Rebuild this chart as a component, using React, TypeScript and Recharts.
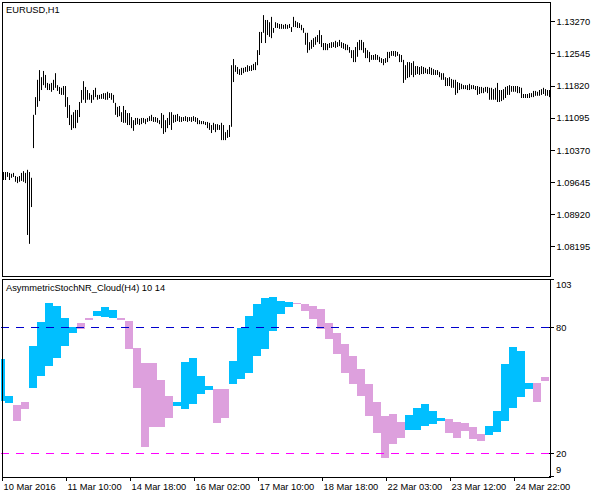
import React from 'react';
import { BarChart, Bar, Cell, XAxis, YAxis, ReferenceLine } from 'recharts';

const FONT = '"Liberation Sans", Arial, sans-serif';

// EURUSD H1 bars, one per hour starting 10 Mar 2016 02:00
const HIGH = [
  1.0988, 1.0988, 1.0988, 1.0986, 1.0984, 1.0986, 1.0979, 1.0977, 1.0979, 1.0986, 1.0990, 1.0986,
  1.0993, 1.0988, 1.0975,
  1.1117, 1.1157, 1.1196, 1.1218, 1.1202, 1.1216, 1.1207, 1.1189, 1.1187, 1.1189, 1.1196, 1.1211, 1.1184, 1.1180, 1.1178, 1.1182,
  1.1182, 1.1157, 1.1139, 1.1117, 1.1123, 1.1128, 1.1128, 1.1146, 1.1173, 1.1193, 1.1180, 1.1173, 1.1166, 1.1162, 1.1173, 1.1178, 1.1162, 1.1162, 1.1164, 1.1166, 1.1166, 1.1169, 1.1166, 1.1166, 1.1162,
  1.1144, 1.1135, 1.1137, 1.1123, 1.1137, 1.1128, 1.1121, 1.1121, 1.1112, 1.1105, 1.1110, 1.1110, 1.1108, 1.1110, 1.1110, 1.1108, 1.1110, 1.1114, 1.1117, 1.1112, 1.1112, 1.1110, 1.1105,
  1.1121, 1.1117, 1.1105, 1.1110, 1.1123, 1.1123, 1.1117, 1.1117, 1.1119, 1.1114, 1.1112, 1.1112, 1.1114, 1.1112, 1.1112, 1.1112, 1.1114, 1.1112, 1.1110, 1.1105,
  1.1103, 1.1103, 1.1101, 1.1101, 1.1099, 1.1094, 1.1099, 1.1096, 1.1096, 1.1094, 1.1099, 1.1094, 1.1078, 1.1083, 1.1094,
  1.1229, 1.1243, 1.1229, 1.1225, 1.1220, 1.1223, 1.1223, 1.1225, 1.1229, 1.1227, 1.1229, 1.1232, 1.1236,
  1.1263, 1.1304, 1.1304, 1.1342, 1.1331, 1.1331, 1.1326, 1.1338, 1.1313, 1.1326, 1.1324, 1.1322, 1.1322, 1.1320, 1.1322, 1.1320, 1.1322, 1.1315, 1.1338, 1.1329, 1.1326, 1.1324, 1.1320, 1.1313,
  1.1302, 1.1302, 1.1281, 1.1286, 1.1290, 1.1293, 1.1297, 1.1308, 1.1297, 1.1279, 1.1279, 1.1277, 1.1279, 1.1281, 1.1281, 1.1284, 1.1281, 1.1286, 1.1281, 1.1279, 1.1277, 1.1275, 1.1270,
  1.1263, 1.1263, 1.1270, 1.1281, 1.1286, 1.1286, 1.1281, 1.1268, 1.1263, 1.1259, 1.1252, 1.1252, 1.1254, 1.1252, 1.1248, 1.1245, 1.1243, 1.1245, 1.1259, 1.1259, 1.1261, 1.1261, 1.1261, 1.1259, 1.1254, 1.1252,
  1.1241, 1.1229, 1.1236, 1.1236, 1.1234, 1.1238, 1.1227, 1.1227, 1.1225, 1.1227, 1.1225, 1.1223, 1.1220, 1.1225, 1.1223, 1.1220, 1.1218, 1.1218, 1.1214, 1.1211, 1.1211,
  1.1202, 1.1200, 1.1202, 1.1198, 1.1196, 1.1196, 1.1191, 1.1189, 1.1187, 1.1184, 1.1184, 1.1184, 1.1187, 1.1184, 1.1184, 1.1182, 1.1182, 1.1180, 1.1180, 1.1178, 1.1180, 1.1180,
  1.1178, 1.1178, 1.1175, 1.1178, 1.1189, 1.1173, 1.1173, 1.1175, 1.1180, 1.1182, 1.1184, 1.1182, 1.1182, 1.1182, 1.1182, 1.1180, 1.1178, 1.1164, 1.1164, 1.1164, 1.1166, 1.1166, 1.1171, 1.1171, 1.1169, 1.1173, 1.1175, 1.1178, 1.1175, 1.1173, 1.1173,
];

const LOW = [
  1.0970, 1.0970, 1.0977, 1.0970, 1.0975, 1.0977, 1.0966, 1.0963, 1.0966, 1.0968, 1.0966, 1.0963,
  1.0846, 1.0826, 1.0909,
  1.1042, 1.1117, 1.1135, 1.1148, 1.1173, 1.1184, 1.1178, 1.1173, 1.1173, 1.1169, 1.1173, 1.1178, 1.1171, 1.1164, 1.1162, 1.1162,
  1.1135, 1.1110, 1.1094, 1.1083, 1.1087, 1.1087, 1.1099, 1.1112, 1.1144, 1.1151, 1.1144, 1.1151, 1.1151, 1.1144, 1.1151, 1.1157, 1.1151, 1.1153, 1.1153, 1.1153, 1.1151, 1.1151, 1.1155, 1.1151, 1.1144,
  1.1117, 1.1112, 1.1114, 1.1101, 1.1099, 1.1099, 1.1094, 1.1094, 1.1087, 1.1081, 1.1094, 1.1096, 1.1094, 1.1096, 1.1099, 1.1096, 1.1101, 1.1103, 1.1103, 1.1101, 1.1101, 1.1099, 1.1096,
  1.1087, 1.1074, 1.1078, 1.1087, 1.1094, 1.1083, 1.1099, 1.1101, 1.1103, 1.1101, 1.1101, 1.1103, 1.1103, 1.1101, 1.1103, 1.1101, 1.1103, 1.1101, 1.1096, 1.1096,
  1.1096, 1.1096, 1.1094, 1.1087, 1.1083, 1.1076, 1.1083, 1.1078, 1.1083, 1.1083, 1.1060, 1.1060, 1.1060, 1.1065, 1.1067,
  1.1090, 1.1191, 1.1214, 1.1209, 1.1207, 1.1207, 1.1211, 1.1214, 1.1214, 1.1216, 1.1216, 1.1218, 1.1218,
  1.1229, 1.1252, 1.1279, 1.1302, 1.1279, 1.1297, 1.1293, 1.1290, 1.1302, 1.1313, 1.1313, 1.1311, 1.1311, 1.1311, 1.1311, 1.1311, 1.1313, 1.1304, 1.1315, 1.1315, 1.1313, 1.1313, 1.1308, 1.1302,
  1.1275, 1.1257, 1.1263, 1.1266, 1.1270, 1.1275, 1.1281, 1.1277, 1.1270, 1.1263, 1.1263, 1.1263, 1.1268, 1.1268, 1.1270, 1.1268, 1.1270, 1.1272, 1.1268, 1.1266, 1.1263, 1.1263, 1.1257,
  1.1245, 1.1236, 1.1236, 1.1248, 1.1263, 1.1263, 1.1257, 1.1245, 1.1245, 1.1236, 1.1241, 1.1241, 1.1241, 1.1241, 1.1236, 1.1234, 1.1229, 1.1234, 1.1236, 1.1245, 1.1250, 1.1250, 1.1248, 1.1250, 1.1236, 1.1236,
  1.1189, 1.1196, 1.1200, 1.1202, 1.1207, 1.1202, 1.1207, 1.1209, 1.1207, 1.1209, 1.1209, 1.1211, 1.1209, 1.1209, 1.1207, 1.1207, 1.1207, 1.1207, 1.1202, 1.1196, 1.1196,
  1.1182, 1.1182, 1.1182, 1.1178, 1.1178, 1.1162, 1.1166, 1.1173, 1.1175, 1.1175, 1.1175, 1.1173, 1.1173, 1.1175, 1.1175, 1.1173, 1.1162, 1.1164, 1.1166, 1.1166, 1.1169, 1.1166,
  1.1151, 1.1151, 1.1151, 1.1151, 1.1146, 1.1146, 1.1148, 1.1151, 1.1155, 1.1162, 1.1162, 1.1169, 1.1169, 1.1169, 1.1166, 1.1166, 1.1155, 1.1155, 1.1155, 1.1155, 1.1155, 1.1157, 1.1157, 1.1160, 1.1160, 1.1160, 1.1162, 1.1164, 1.1160, 1.1160, 1.1157,
];

const PRICE_TICKS = [1.08195, 1.0892, 1.09645, 1.1037, 1.11095, 1.1182, 1.12545, 1.1327];
const PRICE_DOMAIN = [1.07557, 1.13693];

// AsymmetricStochNR_Cloud(H4): main and signal line, one value per H4 bar
const STOCH_MAIN = [
  65, 47.5, 35.6, 41, 71, 82.6, 91.5, 90, 84.6, 80, 79.1, 83.5, 87.8, 89.7, 88.1, 83.5, 69.9, 51.4, 22.9, 32.4,
  32.4, 37.1, 44.6, 63.6, 65.6, 56.9, 52.2, 34.3, 37.1, 64.1, 79.9, 85.4, 91, 94.1, 94.6, 92.6, 92.1, 91, 87.8, 83.9,
  79.1, 74.4, 67.2, 58.5, 53, 47.4, 38, 30, 17.7, 24.5, 27.6, 38.3, 41.9, 43.8, 40.3, 37, 30, 27.6, 30.8, 26.9,
  26.1, 32.9, 40.3, 62.5, 70.9, 68.8, 53.8, 44.6, 54.6,
];
const STOCH_SIGNAL = [
  45, 44, 43, 44.3, 51.4, 57, 61.7, 65.6, 71.2, 77.5, 82.3, 84.6, 85.4, 85.1, 84.6, 84.6, 83.1, 70.4, 63, 63,
  55, 47.4, 42.4, 41.4, 43.5, 48.3, 50.3, 50.6, 50.6, 53.3, 55.7, 58.5, 66.4, 69.6, 78.3, 86.2, 89.8, 91.7, 91, 90.2,
  88.6, 82.3, 77.5, 72, 66.4, 60.1, 53, 44.3, 38, 38.8, 34.8, 31.3, 31.3, 32.9, 34, 35.6, 36.4, 34.8, 34.3, 32.4,
  29.2, 28.8, 30.4, 35.6, 41.9, 47.1, 50.9, 53.5, 56.5,
];
const FIRST_H4_HOURS = 2; // the chart opens in the middle of the 00:00 H4 bar
const H1_PER_H4 = 4;

const LEVELS = [9, 20, 80, 103];
const STOCH_DOMAIN = [8.81, 103.095];
const TIME_LABELS = [
  '10 Mar 2016', '11 Mar 10:00', '14 Mar 18:00', '16 Mar 02:00', '17 Mar 10:00',
  '18 Mar 18:00', '22 Mar 03:00', '23 Mar 12:00', '24 Mar 22:00',
];
const BARS_PER_LABEL = 32;

const priceRows = HIGH.map((h, k) => ({ k, range: [LOW[k], h] }));

const cloudRows = HIGH.map((_, k) => {
  const b = k < FIRST_H4_HOURS ? 0 : 1 + Math.floor((k - FIRST_H4_HOURS) / H1_PER_H4);
  const m = STOCH_MAIN[b];
  const s = STOCH_SIGNAL[b];
  return { k, range: [Math.min(m, s), Math.max(m, s)], up: m > s };
});

const txt = { fontFamily: FONT, fontSize: 9.3, fill: '#000' };

// hairline price bar snapped to a pixel column
const PriceBar = (p: any) => {
  const top = Math.min(p.y, p.y + p.height);
  const h = Math.max(Math.abs(p.height), 1);
  return <rect x={Math.floor(p.x + p.width / 2)} y={top} width={1} height={h} fill="#000" />;
};

const CloudBar = (p: any) => {
  const top = Math.round(Math.min(p.y, p.y + p.height));
  const bottom = Math.round(Math.max(p.y, p.y + p.height));
  return (
    <rect
      x={Math.round(p.x)}
      y={top}
      width={Math.round(p.width)}
      height={Math.max(bottom - top, 1)}
      fill={p.fill}
      shapeRendering="crispEdges"
    />
  );
};

const levelLine = (color: string) => (p: any) => (
  <line
    x1={p.x1}
    x2={p.x2}
    y1={Math.floor(p.y1) + 0.5}
    y2={Math.floor(p.y2) + 0.5}
    stroke={color}
    strokeWidth={1}
    strokeDasharray="8 7"
    fill="none"
  />
);

const TimeTick = (props: any) => {
  const { x, y, payload } = props;
  const k = payload.value;
  if (k % BARS_PER_LABEL !== 0) return <g />;
  return (
    <g>
      <line x1={x + 0.5} x2={x + 0.5} y1={y} y2={y + 4} stroke="#000" />
      <text x={x + 1.5} y={y + 13} {...txt}>{TIME_LABELS[k / BARS_PER_LABEL]}</text>
    </g>
  );
};

const LevelTick = (props: any) => {
  const { x, y, payload } = props;
  const v = payload.value;
  const dy = v === 103 ? 8.5 : v === 9 ? -4 : 3.2;
  return <text x={x} y={y + dy} {...txt}>{v}</text>;
};

export default function App() {
  return (
    <div style={{ position: 'absolute', left: 0, top: 0, width: 602, height: 496, background: '#fff' }}>
      <BarChart
        width={602}
        height={278}
        data={priceRows}
        margin={{ top: 3, right: 0, bottom: 3, left: 1.5 }}
        barCategoryGap={0}
        style={{ position: 'absolute', left: 0, top: 0 }}
      >
        <XAxis dataKey="k" hide />
        <YAxis
          orientation="right"
          width={52.5}
          domain={PRICE_DOMAIN}
          allowDataOverflow
          ticks={PRICE_TICKS}
          interval={0}
          axisLine={false}
          tickSize={5}
          tickLine={{ stroke: '#000', shapeRendering: 'crispEdges' }}
          tick={txt}
          tickFormatter={(v: number) => v.toFixed(5)}
        />
        <Bar dataKey="range" barSize={1} fill="#000" shape={PriceBar} isAnimationActive={false} />
      </BarChart>

      <BarChart
        width={602}
        height={226}
        data={cloudRows}
        margin={{ top: 9, right: 0, bottom: 0, left: 1 }}
        barCategoryGap={0}
        barGap={0}
        style={{ position: 'absolute', left: 0, top: 270 }}
      >
        <XAxis
          dataKey="k"
          interval={0}
          height={19}
          tickLine={false}
          axisLine={false}
          tickSize={0}
          tickMargin={0}
          tick={TimeTick}
        />
        <YAxis
          orientation="right"
          width={53}
          domain={STOCH_DOMAIN}
          allowDataOverflow
          ticks={LEVELS}
          interval={0}
          axisLine={false}
          tickSize={5}
          tickLine={{ stroke: '#000', shapeRendering: 'crispEdges' }}
          tick={LevelTick}
        />
        <ReferenceLine y={80} stroke="#0000CD" shape={levelLine('#0000CD')} />
        <ReferenceLine y={20} stroke="#FF00FF" shape={levelLine('#FF00FF')} />
        <Bar dataKey="range" shape={CloudBar} isAnimationActive={false}>
          {cloudRows.map((r) => (
            <Cell key={r.k} fill={r.up ? '#00BFFF' : '#DDA0DD'} />
          ))}
        </Bar>
      </BarChart>

      <svg width={602} height={496} style={{ position: 'absolute', left: 0, top: 0, pointerEvents: 'none' }}>
        <rect x={2.5} y={2.5} width={548} height={274} fill="none" stroke="#000" />
        <rect x={2.5} y={279.5} width={548} height={198} fill="none" stroke="#000" />
        <text x={6} y={13} {...txt}>EURUSD,H1</text>
        <text x={6} y={291} {...txt}>AsymmetricStochNR_Cloud(H4) 10 14</text>
      </svg>
    </div>
  );
}
